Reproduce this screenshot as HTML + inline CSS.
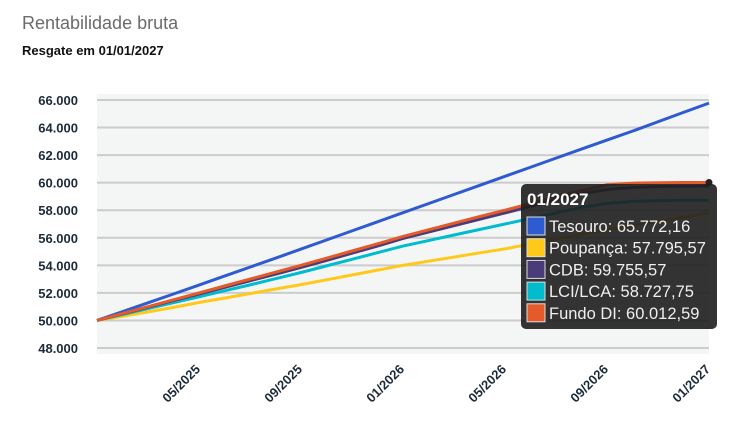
<!DOCTYPE html>
<html><head><meta charset="utf-8"><style>
body{margin:0;width:730px;height:439px;background:#fff;overflow:hidden;font-family:"Liberation Sans",sans-serif}
</style></head><body>
<svg width="730" height="439" id="c">
<text x="22" y="29" font-size="18" fill="#6b6b6b">Rentabilidade bruta</text>
<text x="22" y="55" font-size="13" font-weight="bold" fill="#111">Resgate em 01/01/2027</text>
<rect x="97" y="94" width="612" height="260" fill="#f4f5f5"/>
<g id="grid"></g><g id="xl"></g><g id="lines"></g><g id="tip"></g>
</svg>
<script>
const yTicks=[48000,50000,52000,54000,56000,58000,60000,62000,64000,66000];
const xTickLabels=["05/2025","09/2025","01/2026","05/2026","09/2026","01/2027"];
const xTickMonths=[4,8,12,16,20,24];
const seriesNames=["Tesouro","Poupança","CDB","LCI/LCA","Fundo DI"];
const seriesColors=["#2f5bd0","#ffc91a","#4a3c78","#00bccd","#e55a2b"];
const tesouro=[50000,50640,51280,51920,52570,53220,53870,54520,55180,55840,56500,57160,57820,58480,59140,59800,60460,61120,61780,62440,63090,63740,64420,65100,65772];
const poupanca=[50000,50300,50620,50950,51300,51620,51950,52280,52600,52950,53300,53650,54000,54300,54600,54900,55200,55550,55900,56250,56600,56900,57200,57500,57796];
const cdb=[50000,50480,50960,51440,51920,52400,52880,53360,53850,54360,54880,55400,55950,56420,56880,57340,57800,58280,58750,59200,59500,59650,59720,59745,59756];
const lci=[50000,50430,50860,51290,51720,52150,52580,53030,53480,53960,54440,54920,55400,55800,56200,56600,57000,57400,57800,58200,58500,58640,58700,58720,58728];
const fundo=[50000,50500,51000,51500,52000,52500,53000,53500,54000,54520,55040,55560,56100,56580,57060,57540,58000,58480,58960,59420,59850,59960,59995,60008,60013];
const tipValues=["65.772,16","57.795,57","59.755,57","58.727,75","60.012,59"];
const NS="http://www.w3.org/2000/svg";
const X=m=>97+m*612/24, Y=v=>348-(v-48000)*248/18000;
function mk(t,a,p){const e=document.createElementNS(NS,t);for(const k in a)e.setAttribute(k,a[k]);p.appendChild(e);return e;}
const g=document.getElementById('grid');
yTicks.forEach(v=>{
 const l=mk('line',{x1:97,x2:709,y1:Y(v),y2:Y(v),stroke:'#cccccc','stroke-width':2},g);
 
 
 const t=mk('text',{x:78,y:Y(v)+5,'text-anchor':'end','font-size':13,'font-weight':'bold',fill:'#1c2a3a'},g);
 t.textContent=v.toLocaleString('de-DE');
 
 
});
const xl=document.getElementById('xl');
xTickLabels.forEach((s,i)=>{
 const x=X(xTickMonths[i]);
 const t=mk('text',{x:x+2,y:370,'text-anchor':'end','font-size':13,'font-weight':'bold',fill:'#1c2a3a',transform:`rotate(-45 ${x+2} 370)`},xl);
 t.textContent=s;
 
 
});
const lg=document.getElementById('lines');
[tesouro,poupanca,lci,cdb,fundo].forEach((d,j)=>{
 const idx=[0,1,3,2,4][j];
 const p=mk('polyline',{points:d.map((v,i)=>X(i)+','+Y(v)).join(' '),fill:'none',stroke:seriesColors[idx],'stroke-width':3,'stroke-linejoin':'round'},lg);
 
 
});
const mkr=mk('circle',{cx:X(24),cy:Y(fundo[24]),r:3.5,fill:'#222'},lg);


const tp=document.getElementById('tip');
const box=mk('rect',{x:521,y:184,width:196,height:145,rx:5,fill:'rgba(30,30,30,0.9)'},tp);


const tt=mk('text',{x:527,y:205,'font-size':17,'font-weight':'bold',fill:'#fff'},tp);
tt.textContent='01/2027';


seriesNames.forEach((n,i)=>{
 const cy=226+i*21.7;
 const r=mk('rect',{x:527,y:cy-9,width:18,height:18,fill:seriesColors[i],stroke:'#ddd','stroke-width':1},tp);
 
 
 const t=mk('text',{x:549,y:cy+6,'font-size':16.5,fill:'#eee'},tp);
 t.textContent=n+': '+tipValues[i];
 
 
});
</script>
</body></html>
